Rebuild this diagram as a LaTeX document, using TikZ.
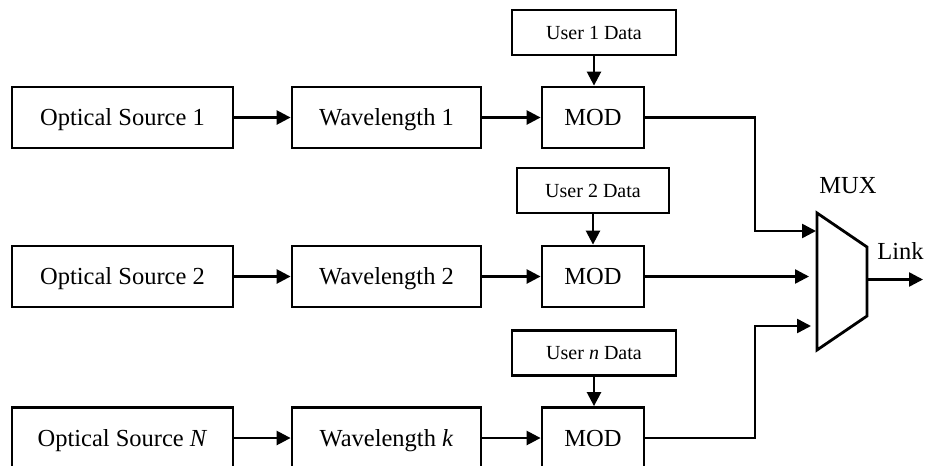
\documentclass[tikz,border=0pt]{standalone}
\usepackage{fontspec}
\setmainfont{Liberation Serif}
\usetikzlibrary{arrows.meta}
\begin{document}
\begin{tikzpicture}[x=1pt,y=-1pt,
  blk/.style={draw, line width=2.8pt, inner sep=0pt, minimum height=61pt,
    font=\fontsize{24.5}{28}\selectfont, text height=16pt, text depth=0pt},
  databox/.style={draw, line width=2.8pt, inner sep=0pt, minimum width=164pt,
    minimum height=45pt, font=\fontsize{20}{24}\selectfont, text height=13.5pt, text depth=0pt},
  lbl/.style={inner sep=0pt, font=\fontsize{24.5}{28}\selectfont, text height=16pt, text depth=0pt},
  wire/.style={line width=2.5pt, line join=miter},
  arr/.style={wire, -{Triangle[length=14pt,width=14pt]}}]
\useasboundingbox (0,0) rectangle (927,466);

% channel 1
\node[blk, minimum width=221pt] (src1) at (122.5,117.5) {Optical Source 1};
\node[blk, minimum width=189pt] (wl1) at (386.5,117.5) {Wavelength 1};
\node[blk, minimum width=102pt] (mod1) at (593,117.5) {MOD};
\node[databox] (dat1) at (594,32.5) {User 1 Data};

% channel 2
\node[blk, minimum width=221pt] (src2) at (122.5,276.5) {Optical Source 2};
\node[blk, minimum width=189pt] (wl2) at (386.5,276.5) {Wavelength 2};
\node[blk, minimum width=102pt] (mod2) at (593,276.5) {MOD};
\node[databox, minimum width=152pt] (dat2) at (593,190.5) {User 2 Data};

% channel N
\node[blk, minimum width=221pt] (src3) at (122.5,438) {Optical Source \textit{N}};
\node[blk, minimum width=189pt] (wl3) at (386.5,438) {Wavelength \textit{k}};
\node[blk, minimum width=102pt] (mod3) at (593,438) {MOD};
\node[databox] (dat3) at (594,353) {User \textit{n} Data};

% source -> wavelength -> modulator
\foreach \i in {1,2,3}{
  \draw[arr] (src\i) -- (wl\i);
  \draw[arr] (wl\i) -- (mod\i);
  \draw[arr] (dat\i.south) -- (dat\i.south |- mod\i.north);
}

% multiplexer
\coordinate (m1) at (817,213);
\coordinate (m2) at (867,247);
\coordinate (m3) at (867,316);
\coordinate (m4) at (817,350);
\draw[wire, line width=2.8pt] (m1) -- (m2) -- (m3) -- (m4) -- cycle;
\node[lbl] (muxlabel) at (848,185.5) {MUX};

% multiplexer inputs
\coordinate (in1) at (816,231);
\coordinate (in2) at (809,276.5);
\coordinate (in3) at (811,326);
\coordinate (j1) at (755,231);
\coordinate (j3) at (755,326);
\draw[arr] (mod1.east) -| (j1) -- (in1);
\draw[arr] (mod2.east) -- (in2);
\draw[arr] (mod3.east) -| (j3) -- (in3);

% output link
\coordinate (out) at (867,279.5);
\coordinate (link) at (923,279.5);
\draw[arr] (out) -- (link);
\node[lbl] (linklabel) at (900.5,251) {Link};
\end{tikzpicture}
\end{document}
